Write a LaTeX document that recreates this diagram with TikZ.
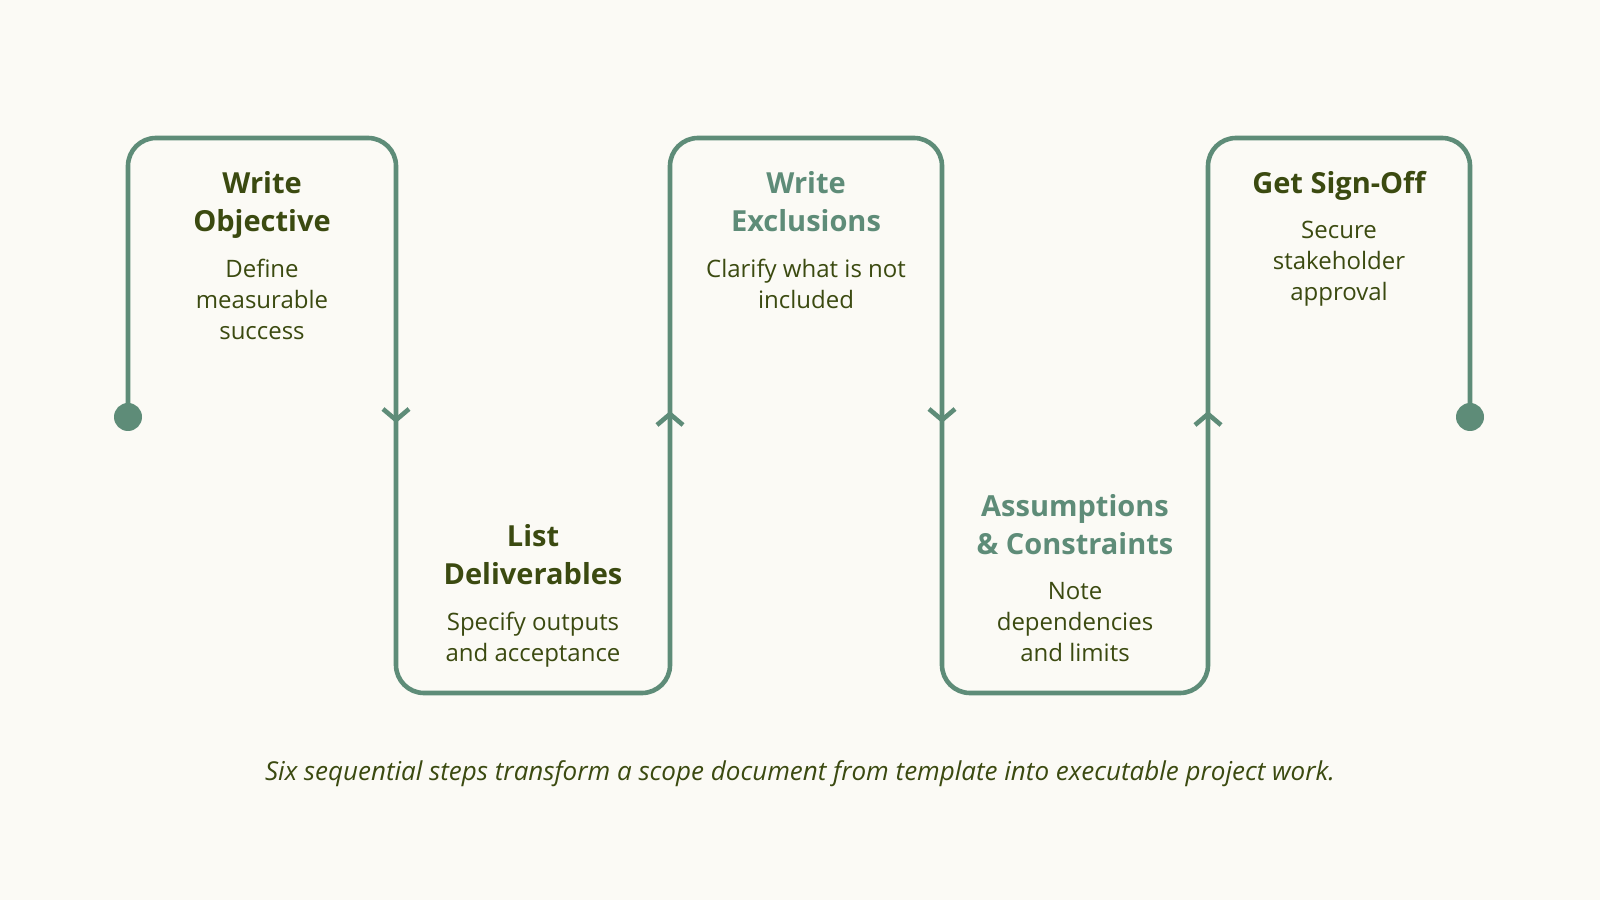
\documentclass[tikz,border=0pt]{standalone}
\usepackage{fontspec}
\setmainfont{Open Sans}
\usetikzlibrary{positioning,arrows.meta}
\definecolor{pathgreen}{HTML}{5E8C78}
\definecolor{olive}{HTML}{3B4A10}
\definecolor{paper}{HTML}{FBFAF5}

\begin{document}
\begin{tikzpicture}[x=0.5pt,y=0.5pt,
  route/.style={pathgreen,line width=2.3pt,rounded corners=14pt},
  flowtip/.style={pathgreen,line width=2.3pt,-{Straight Barb[length=5.5pt,width=13pt]}},
  steptitle/.style={font=\bfseries\fontsize{14.5}{19}\selectfont,align=center,inner sep=0pt,text depth=0pt},
  stepnote/.style={text=olive,font=\fontsize{12}{15.5}\selectfont,align=center,inner sep=0pt},
  node distance=13.5pt]
\fill[paper] (0,0) rectangle (1600,900);
\useasboundingbox (0,0) rectangle (1600,900);

% lanes of the zigzag
\foreach \name/\x in {a/128,b/396,c/670,d/942,e/1208,f/1470}{
  \coordinate (\name-top) at (\x,762);
  \coordinate (\name-mid) at (\x,483);
  \coordinate (\name-bot) at (\x,207);
}
\draw[route] (a-mid) -- (a-top) -- (b-top) -- (b-bot) -- (c-bot) -- (c-top)
  -- (d-top) -- (d-bot) -- (e-bot) -- (e-top) -- (f-top) -- (f-mid);
\fill[pathgreen] (a-mid) circle[radius=7pt] (f-mid) circle[radius=7pt];
\draw[flowtip] ([yshift=3pt]b-mid) -- ([yshift=-3pt]b-mid);
\draw[flowtip] ([yshift=-3pt]c-mid) -- ([yshift=3pt]c-mid);
\draw[flowtip] ([yshift=3pt]d-mid) -- ([yshift=-3pt]d-mid);
\draw[flowtip] ([yshift=-3pt]e-mid) -- ([yshift=3pt]e-mid);

% upper steps
\node[steptitle,text=olive,anchor=north] (t1) at (262,729) {Write\\Objective};
\node[stepnote,below=of t1] (d1) {Define\\measurable\\success};
\node[steptitle,text=pathgreen,anchor=north] (t3) at (806,729) {Write\\Exclusions};
\node[stepnote,below=of t3] (d3) {Clarify what is not\\included};
\node[steptitle,text=olive,anchor=north] (t5) at (1339,729) {Get Sign-Off};
\node[stepnote,below=of t5] (d5) {Secure\\stakeholder\\approval};

% lower steps
\node[stepnote,text depth=0pt,anchor=south] (d2) at (533,238) {Specify outputs\\and acceptance};
\node[steptitle,text=olive,above=of d2] (t2) {List\\Deliverables};
\node[stepnote,text depth=0pt,anchor=south] (d4) at (1075,238) {Note\\dependencies\\and limits};
\node[steptitle,text=pathgreen,above=of d4] (t4) {Assumptions\\\& Constraints};

\node[text=olive,font=\itshape\fontsize{13}{15}\selectfont,anchor=base] (caption) at (800,120)
  {Six sequential steps transform a scope document from template into executable project work.};
\end{tikzpicture}
\end{document}
